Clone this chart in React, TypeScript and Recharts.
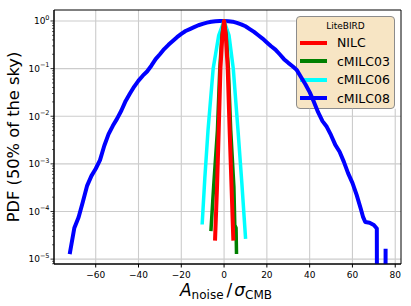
import React from 'react'
import { Legend, Line, LineChart, ReferenceArea, ReferenceLine, XAxis, YAxis } from 'recharts'

// PDF of A_noise / sigma_CMB, 50% of the sky (LiteBIRD)
// y values below the axis floor (1e-9) stand for empty bins
const nilc = [
    { x: -4.2, y: 2.7e-5 }, { x: -3.3, y: 3.2e-4 }, { x: -2.5, y: 5.1e-3 }, { x: -1.7, y: 0.1 },
    { x: -0.8, y: 0.5 }, { x: 0, y: 1.0 }, { x: 0.8, y: 0.5 }, { x: 1.7, y: 0.1 },
    { x: 2.6, y: 5.1e-3 }, { x: 3.5, y: 3.2e-4 }, { x: 4.3, y: 2.7e-5 },
]

const cmilc03 = [
    { x: -6.1, y: 4.2e-5 }, { x: -4.9, y: 3.2e-4 }, { x: -3.1, y: 5.1e-3 }, { x: -2.0, y: 0.1 },
    { x: -1.0, y: 0.5 }, { x: 0, y: 1.0 }, { x: 1.0, y: 0.5 }, { x: 2.0, y: 0.1 },
    { x: 3.1, y: 5.1e-3 }, { x: 4.6, y: 3.2e-4 }, { x: 5.0, y: 5.2e-5 }, { x: 5.6, y: 4.5e-5 },
    { x: 5.8, y: 1.4e-5 },
]

const cmilc06 = [
    { x: -10.2, y: 5.8e-5 }, { x: -9.0, y: 5e-4 }, { x: -7.5, y: 5.1e-3 }, { x: -5.1, y: 0.1 },
    { x: -2.5, y: 0.5 }, { x: 0, y: 1.0 }, { x: 2.3, y: 0.5 }, { x: 4.3, y: 0.1 },
    { x: 6.5, y: 5.1e-3 }, { x: 8.3, y: 4e-4 }, { x: 10.0, y: 2.9e-5 },
]

const cmilc08 = [
    { x: -72, y: 1.4e-5 }, { x: -70, y: 4.5e-5 }, { x: -68, y: 7.6e-5 }, { x: -66, y: 1.6e-4 },
    { x: -64, y: 3.5e-4 }, { x: -62, y: 5.6e-4 }, { x: -60, y: 7.9e-4 }, { x: -58, y: 1.2e-3 },
    { x: -56, y: 2.4e-3 }, { x: -54, y: 4.2e-3 }, { x: -52, y: 6.3e-3 }, { x: -50, y: 8.9e-3 },
    { x: -48, y: 0.0132 }, { x: -46, y: 0.021 }, { x: -44, y: 0.03 }, { x: -42, y: 0.042 },
    { x: -40, y: 0.056 }, { x: -38, y: 0.071 }, { x: -36, y: 0.087 }, { x: -34, y: 0.115 },
    { x: -32, y: 0.158 }, { x: -30, y: 0.2 }, { x: -28, y: 0.257 }, { x: -26, y: 0.316 },
    { x: -24, y: 0.38 }, { x: -22, y: 0.457 }, { x: -20, y: 0.537 }, { x: -18, y: 0.617 },
    { x: -16, y: 0.676 }, { x: -14, y: 0.741 }, { x: -12, y: 0.813 }, { x: -10, y: 0.871 },
    { x: -8, y: 0.923 }, { x: -6, y: 0.966 }, { x: -4, y: 0.989 }, { x: -2, y: 1.0 },
    { x: 0, y: 1.0 }, { x: 2, y: 0.989 }, { x: 4, y: 0.966 }, { x: 6, y: 0.912 },
    { x: 8, y: 0.851 }, { x: 10, y: 0.776 }, { x: 12, y: 0.676 }, { x: 14, y: 0.589 },
    { x: 16, y: 0.501 }, { x: 18, y: 0.427 }, { x: 20, y: 0.355 }, { x: 22, y: 0.295 },
    { x: 24, y: 0.251 }, { x: 26, y: 0.2 }, { x: 28, y: 0.158 }, { x: 30, y: 0.132 },
    { x: 32, y: 0.112 }, { x: 34, y: 0.093 }, { x: 36, y: 0.066 }, { x: 38, y: 0.047 },
    { x: 40, y: 0.032 }, { x: 42, y: 0.02 }, { x: 44, y: 0.012 }, { x: 46, y: 7.9e-3 },
    { x: 48, y: 6.0e-3 }, { x: 50, y: 4.0e-3 }, { x: 52, y: 2.5e-3 }, { x: 54, y: 1.8e-3 },
    { x: 56, y: 1.1e-3 }, { x: 58, y: 6.3e-4 }, { x: 60, y: 4.0e-4 }, { x: 62, y: 2.2e-4 },
    { x: 64, y: 1.1e-4 }, { x: 65, y: 7.6e-5 }, { x: 66, y: 6.0e-5 }, { x: 68, y: 5.8e-5 },
    { x: 70, y: 5.2e-5 }, { x: 71.4, y: 4.4e-5 }, { x: 71.6, y: 1e-9 }, { x: 73, y: 1e-9 },
    { x: 75.3, y: 1e-9 }, { x: 75.5, y: 1.5e-5 },
]

const legendTitle = 'LiteBIRD'
const series = [
    { name: 'NILC', color: '#ff0000', width: 4, data: nilc },
    { name: 'cMILC03', color: '#008000', width: 3.5, data: cmilc03 },
    { name: 'cMILC06', color: '#00ffff', width: 3.5, data: cmilc06 },
    { name: 'cMILC08', color: '#0000ff', width: 4, data: cmilc08 },
]

const xTicks = [-60, -40, -20, 0, 20, 40, 60, 80]
const yMajor = [1e-5, 1e-4, 1e-3, 1e-2, 1e-1, 1]
const yMinor = [2, 3, 4, 5, 6, 7, 8, 9].flatMap(m => [1e-6, 1e-5, 1e-4, 1e-3, 1e-2, 1e-1].map(p => m * p))
    .filter(v => v > 7.9e-6 && v < 1.7)
const xDomain = [-79.5, 82.7]
const yDomain = [7.9e-6, 1.7]
// legend box corner in data units (grid is not drawn under it)
const legendLeftX = 33.5
const legendBottomY = 0.0143

const font = '"DejaVu Sans", sans-serif'
const minus = (n: number) => (n < 0 ? '\u2212' + Math.abs(n) : String(n))
const gridStyle = { stroke: '#cccccc', strokeWidth: 1.1 }

// grid segments, split around the legend box
const gridSegments = [
    ...xTicks.map(x => (x > legendLeftX
        ? [{ x, y: yDomain[0] }, { x, y: legendBottomY }]
        : [{ x, y: yDomain[0] }, { x, y: yDomain[1] }])),
    ...yMajor.map(y => (y > legendBottomY
        ? [{ x: xDomain[0], y }, { x: legendLeftX, y }]
        : [{ x: xDomain[0], y }, { x: xDomain[1], y }])),
]

const YTick = (props: any) => {
    const { x, y, payload } = props
    const e = Math.log10(payload.value)
    const major = Math.abs(e - Math.round(e)) < 1e-6
    if (!major) return <line x1={x - 2} x2={x} y1={y} y2={y} stroke='#000' strokeWidth={0.6} />
    return (
        <g>
            <line x1={x - 3.5} x2={x} y1={y} y2={y} stroke='#000' strokeWidth={0.8} />
            <text x={x - 4.5} y={y + 3.3} textAnchor='end' fontFamily={font} fontSize={9} fill='#000'>
                <tspan>10</tspan>
                <tspan dy={-4.5} fontSize={6.5}>{minus(Math.round(e))}</tspan>
            </text>
        </g>
    )
}

const renderLegend = () => (
    <div style={{
        position: 'relative', width: 99, height: 93, boxSizing: 'border-box',
        background: '#f7e5c4', border: '1px solid #8c8c8c', borderRadius: 4, fontFamily: font,
    }}>
        <div style={{ position: 'absolute', top: 3, left: 0, right: 0, textAlign: 'center', fontSize: 9, lineHeight: '12px' }}>
            {legendTitle}
        </div>
        {series.map((s, i) => (
            <div key={s.name} style={{ position: 'absolute', left: 3, top: 17 + i * 18.5, height: 17, display: 'flex', alignItems: 'center' }}>
                <div style={{ width: 27, height: 4, background: s.color }} />
                <span style={{ marginLeft: 10, fontSize: 12.5 }}>{s.name}</span>
            </div>
        ))}
    </div>
)

const App = () => {
    return (
        <div style={{ position: 'absolute', left: 0, top: 0, zIndex: 0, background: '#fff' }}>
            <LineChart width={411} height={306} margin={{ top: 10, right: 10, bottom: 0, left: 0 }}>
                {gridSegments.map((seg, i) => (
                    <ReferenceLine key={i} segment={seg} {...gridStyle} zIndex={-100} />
                ))}
                <XAxis
                    type='number'
                    dataKey='x'
                    domain={xDomain}
                    ticks={xTicks}
                    allowDataOverflow
                    interval={0}
                    tickFormatter={minus}
                    tickSize={3.5}
                    tickMargin={4}
                    height={42}
                    stroke='#000'
                    tick={{ fontSize: 9, fontFamily: font, fill: '#000' }}
                    label={{
                        content: () => (
                            <text x={226} y={296} textAnchor='middle' fontFamily={font} fontSize={17} fill='#000'>
                                <tspan fontStyle='italic'>A</tspan>
                                <tspan fontSize={12} dy={3}>noise</tspan>
                                <tspan dy={-3} dx={3}>/</tspan>
                                <tspan fontStyle='italic' dx={2}>σ</tspan>
                                <tspan fontSize={12} dy={3}>CMB</tspan>
                            </text>
                        ),
                    }}
                />
                <YAxis
                    type='number'
                    scale='log'
                    domain={yDomain}
                    ticks={[...yMajor, ...yMinor]}
                    allowDataOverflow
                    interval={0}
                    width={54}
                    tickSize={0}
                    tickMargin={0}
                    tickLine={false}
                    stroke='#000'
                    tick={<YTick />}
                    label={{
                        content: () => (
                            <text x={13} y={137} transform='rotate(-90, 13, 137)' textAnchor='middle'
                                dominantBaseline='central' fontFamily={font} fontSize={16.3} fill='#000'>
                                PDF (50% of the sky)
                            </text>
                        ),
                    }}
                />
                {[...series].reverse().map(s => (
                    <Line
                        key={s.name}
                        data={s.data}
                        dataKey='y'
                        name={s.name}
                        type='linear'
                        stroke={s.color}
                        strokeWidth={s.width}
                        strokeLinecap='square'
                        strokeLinejoin='round'
                        dot={false}
                        activeDot={false}
                        isAnimationActive={false}
                    />
                ))}
                <ReferenceArea x1={xDomain[0]} x2={xDomain[1]} y1={yDomain[0]} y2={yDomain[1]}
                    fill='none' fillOpacity={0} stroke='#000' strokeWidth={1} />
                <Legend
                    layout='vertical'
                    align='center'
                    verticalAlign='middle'
                    content={renderLegend}
                    wrapperStyle={{ top: 16, left: 296, width: 99, height: 93, zIndex: -1 }}
                />
            </LineChart>
        </div>
    )
}

export default App
